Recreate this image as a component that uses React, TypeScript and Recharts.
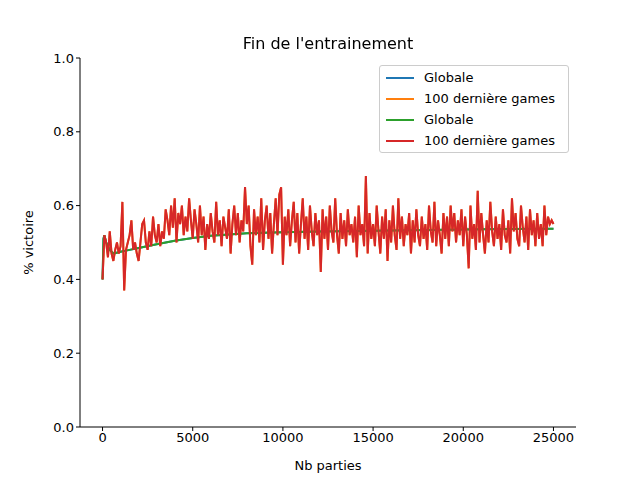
import React from 'react';
import { LineChart, Line, XAxis, YAxis } from 'recharts';

const redStart = 0;
const redStep = 100;
const redValues = [
0.40,0.52,0.50,0.46,0.53,0.47,0.45,0.48,0.50,0.47,
0.49,0.61,0.37,0.48,0.50,0.52,0.56,0.48,0.50,0.47,
0.45,0.50,0.55,0.56,0.50,0.48,0.53,0.49,0.57,0.52,
0.50,0.55,0.49,0.53,0.51,0.59,0.56,0.52,0.60,0.54,
0.62,0.50,0.58,0.55,0.60,0.52,0.57,0.53,0.62,0.56,
0.51,0.59,0.55,0.50,0.60,0.52,0.57,0.48,0.55,0.51,
0.58,0.53,0.50,0.61,0.52,0.56,0.49,0.57,0.54,0.51,
0.59,0.47,0.55,0.60,0.52,0.58,0.50,0.56,0.53,0.65,
0.55,0.60,0.49,0.44,0.59,0.52,0.57,0.50,0.62,0.48,
0.56,0.60,0.51,0.58,0.47,0.55,0.62,0.52,0.63,0.65,
0.44,0.57,0.52,0.59,0.49,0.56,0.61,0.50,0.58,0.47,
0.55,0.62,0.51,0.57,0.48,0.60,0.53,0.49,0.58,0.52,
0.56,0.42,0.59,0.51,0.57,0.48,0.60,0.53,0.50,0.62,
0.52,0.47,0.58,0.51,0.56,0.49,0.59,0.52,0.55,0.50,
0.57,0.46,0.60,0.52,0.55,0.49,0.68,0.47,0.58,0.51,
0.55,0.49,0.60,0.53,0.47,0.57,0.51,0.59,0.45,0.56,
0.50,0.60,0.52,0.48,0.62,0.51,0.57,0.49,0.55,0.52,
0.58,0.47,0.56,0.50,0.59,0.52,0.49,0.57,0.51,0.55,
0.48,0.60,0.53,0.50,0.61,0.49,0.56,0.52,0.47,0.58,
0.51,0.57,0.49,0.60,0.53,0.58,0.50,0.56,0.52,0.59,
0.49,0.57,0.52,0.43,0.60,0.51,0.55,0.48,0.64,0.50,
0.58,0.52,0.47,0.56,0.50,0.61,0.53,0.49,0.57,0.51,
0.55,0.48,0.59,0.52,0.50,0.56,0.47,0.62,0.53,0.58,
0.51,0.49,0.60,0.54,0.50,0.57,0.48,0.59,0.52,0.56,
0.49,0.58,0.51,0.55,0.49,0.60,0.52,0.57,0.55,0.56,
0.55];

const greenX = [0,50,100,200,400,600,1000,1500,2000,3000,4000,5000,6000,7000,8000,10000,12000,15000,18000,21000,25000];
const greenY = [0.40,0.51,0.52,0.50,0.48,0.47,0.475,0.48,0.485,0.495,0.505,0.512,0.518,0.522,0.525,0.528,0.53,0.532,0.534,0.536,0.537];

const xTicks = [0,5000,10000,15000,20000,25000];
const yTicks = [0,0.2,0.4,0.6,0.8,1.0];

const redData = redValues.map((v, i) => ({ x: redStart + i * redStep, y: v }));
const greenData = greenX.map((x, i) => ({ x, y: greenY[i] }));

const legendItems = [
  { label: 'Globale', color: '#1f77b4' },
  { label: '100 dernière games', color: '#ff7f0e' },
  { label: 'Globale', color: '#2ca02c' },
  { label: '100 dernière games', color: '#d62728' },
];

const font = 'DejaVu Sans, sans-serif';
const tickStyle = { fontSize: 13, fill: '#000', fontFamily: font };

export default function App() {
  return (
    <div style={{ position: 'fixed', left: 0, top: 0, width: 640, height: 480, background: '#fff', fontFamily: font }}>
      <LineChart width={640} height={480} margin={{ top: 58, right: 64, bottom: 0, left: 0 }}>
        <XAxis dataKey="x" type="number" domain={[-1250, 26250]} ticks={xTicks} height={53}
          tick={tickStyle} tickLine={{ stroke: '#000' }} axisLine={{ stroke: '#000' }} tickSize={4}
          allowDataOverflow label={{ value: 'Nb parties', position: 'insideBottom', offset: 10, fontSize: 13, fill: '#000', fontFamily: font }} />
        <XAxis xAxisId="top" orientation="top" type="number" domain={[-1250, 26250]} height={0} tick={false} tickLine={false} axisLine={{ stroke: '#000' }} />
        <YAxis type="number" domain={[0, 1]} ticks={yTicks} width={80} tickFormatter={(v: number) => v.toFixed(1)}
          tick={tickStyle} tickLine={{ stroke: '#000' }} axisLine={{ stroke: '#000' }} tickSize={4}
          label={{ value: '% victoire', angle: -90, position: 'insideLeft', offset: 28, fontSize: 13, fill: '#000', fontFamily: font, style: { textAnchor: 'middle' } }} />
        <YAxis yAxisId="right" orientation="right" domain={[0, 1]} width={0} tick={false} tickLine={false} axisLine={{ stroke: '#000' }} />
        <Line data={greenData} dataKey="y" stroke="#1f77b4" strokeWidth={2} dot={false} isAnimationActive={false} />
        <Line data={redData} dataKey="y" stroke="#ff7f0e" strokeWidth={2} dot={false} isAnimationActive={false} />
        <Line data={greenData} dataKey="y" stroke="#2ca02c" strokeWidth={2} dot={false} isAnimationActive={false} />
        <Line data={redData} dataKey="y" stroke="#d62728" strokeWidth={2} dot={false} isAnimationActive={false} />
      </LineChart>
      <div style={{ position: 'absolute', left: 0, top: 34, width: 656, textAlign: 'center', fontSize: 16, color: '#000' }}>Fin de l'entrainement</div>
      <div style={{ position: 'absolute', left: 379, top: 65, width: 188, height: 86, border: '1px solid #ccc', borderRadius: 3, background: 'rgba(255,255,255,0.8)', fontSize: 13, padding: '0' }}>
        {legendItems.map((it, i) => (
          <div key={i} style={{ position: 'absolute', left: 6, top: 3 + i * 21, display: 'flex', alignItems: 'center', height: 17 }}>
            <div style={{ width: 28, height: 2, background: it.color, marginRight: 10 }} />
            <span>{it.label}</span>
          </div>
        ))}
      </div>
    </div>
  );
}
